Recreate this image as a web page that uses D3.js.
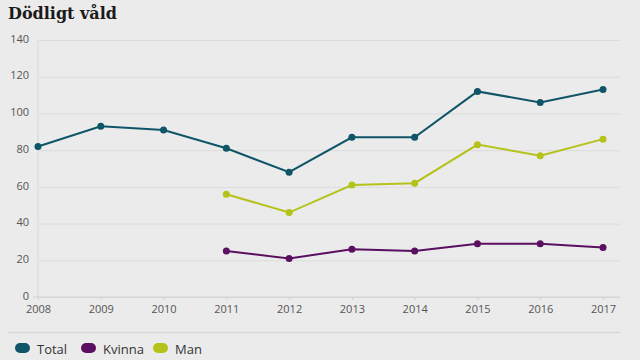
<!DOCTYPE html>
<html><head><meta charset="utf-8">
<script src="https://cdn.jsdelivr.net/npm/d3@7"></script>
<style>
html,body{margin:0;padding:0;background:#ebebeb;}
svg{display:block;}
</style></head>
<body>
<svg id="c" width="640" height="360"></svg>
<script>
const years = [2008,2009,2010,2011,2012,2013,2014,2015,2016,2017];
const total = [82,93,91,81,68,87,87,112,106,113];
const kvinna = [null,null,null,25,21,26,25,29,29,27];
const man = [null,null,null,56,46,61,62,83,77,86];
const yTicks = [0,20,40,60,80,100,120,140];
const seriesNames = ["Total","Kvinna","Man"];
const seriesColors = ["#0e5568","#5b0f60","#b4c21a"];

const svg = d3.select("#c");
svg.append("rect").attr("width",640).attr("height",360).attr("fill","#ebebeb");

const x = d3.scaleLinear().domain([2008,2017]).range([38,603]);
const y = d3.scaleLinear().domain([0,140]).range([297,40]);

svg.append("text").attr("x",8).attr("y",19)
  .attr("font-family","DejaVu Serif").attr("font-weight","bold").attr("font-size",16)
  .attr("fill","#1a1a1a").text("Dödligt våld");

// grid
const gy = svg.append("g").attr("transform","translate(38,0)")
  .call(d3.axisLeft(y).tickValues(yTicks).tickSize(-582).tickPadding(9));
gy.select(".domain").remove();
gy.selectAll(".tick line").attr("stroke","#dcdcdc");
gy.selectAll(".tick text").attr("font-family","Open Sans").attr("font-size",11).attr("fill","#555").attr("dy","0.2em");

// left axis line
svg.append("line").attr("x1",38).attr("x2",38).attr("y1",40).attr("y2",297).attr("stroke","#d6d6d6");

const gx = svg.append("g").attr("transform","translate(0,297)")
  .call(d3.axisBottom(x).tickValues(years).tickFormat(d3.format("d")).tickSize(3).tickPadding(5));
gx.select(".domain").attr("d","M33,0H620").attr("stroke","#d0d0d0");
gx.selectAll(".tick line").attr("stroke","#d0d0d0");
gx.selectAll(".tick text").attr("font-family","Open Sans").attr("font-size",11).attr("fill","#555");

// separator
svg.append("line").attr("x1",8).attr("x2",620).attr("y1",332.5).attr("y2",332.5).attr("stroke","#d8d8d8").attr("stroke-width",1.5);

const data = [total,kvinna,man];
const line = d3.line().defined(d=>d.v!=null).x(d=>x(d.y)).y(d=>y(d.v));
data.forEach((arr,i)=>{
  const pts = years.map((yr,j)=>({y:yr,v:arr[j]}));
  svg.append("path").datum(pts).attr("d",line).attr("fill","none")
    .attr("stroke",seriesColors[i]).attr("stroke-width",2);
  svg.selectAll(null).data(pts.filter(d=>d.v!=null)).enter().append("circle")
    .attr("cx",d=>x(d.y)).attr("cy",d=>y(d.v)).attr("r",3.5)
    .attr("fill",seriesColors[i]);
});

// legend
const lx = [15,81,153];
seriesNames.forEach((n,i)=>{
  svg.append("rect").attr("x",lx[i]).attr("y",343).attr("width",15).attr("height",10).attr("rx",5)
    .attr("fill",seriesColors[i]);
  svg.append("text").attr("x",lx[i]+22).attr("y",354).attr("font-family","Open Sans").attr("font-size",13)
    .attr("fill","#333").text(n);
});
</script>
</body></html>
